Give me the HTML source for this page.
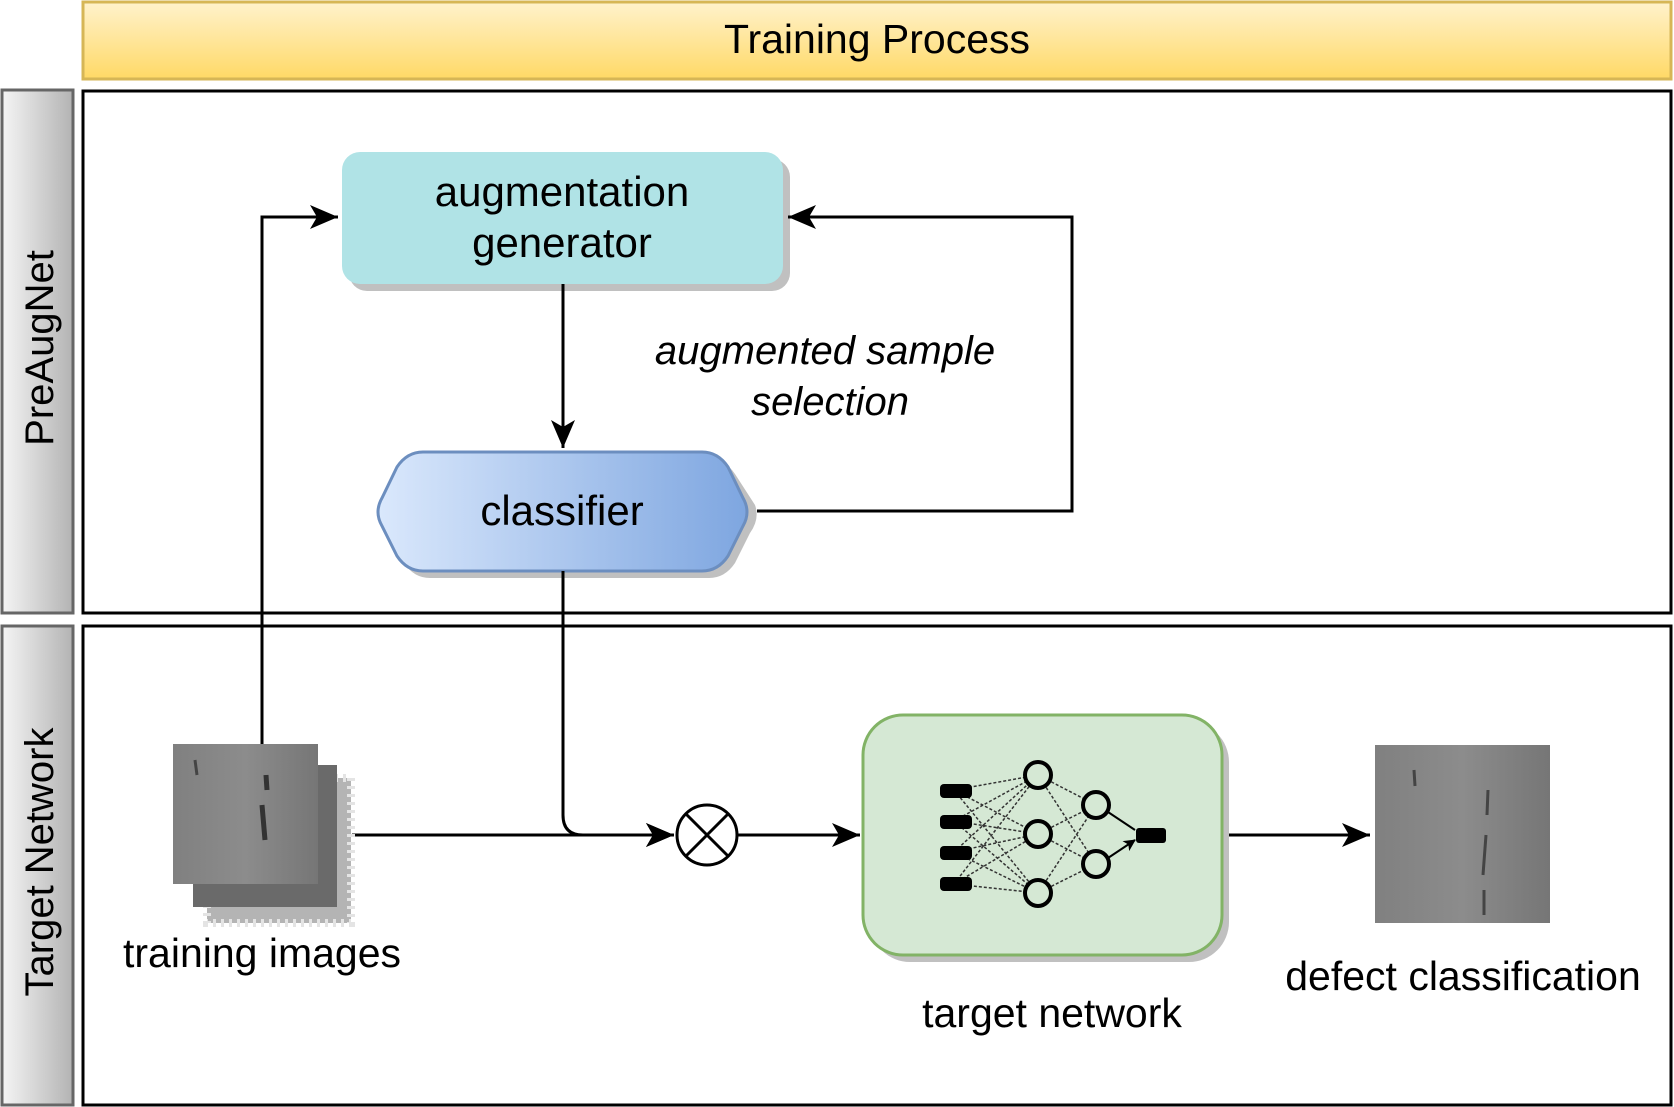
<!DOCTYPE html>
<html><head><meta charset="utf-8"><style>
html,body{margin:0;padding:0;background:#fff;}
svg{display:block;}
text{font-family:"Liberation Sans",Arial,sans-serif;}
</style></head><body>
<svg width="1674" height="1107" viewBox="0 0 1674 1107" xmlns="http://www.w3.org/2000/svg">
<defs>
<linearGradient id="hdr" x1="0" y1="0" x2="0" y2="1"><stop offset="0" stop-color="#fff2cc"/><stop offset="1" stop-color="#ffd966"/></linearGradient>
<linearGradient id="side" x1="0" y1="0" x2="1" y2="0"><stop offset="0" stop-color="#f5f5f5"/><stop offset="1" stop-color="#b3b3b3"/></linearGradient>
<linearGradient id="cls" x1="0" y1="0" x2="1" y2="0"><stop offset="0" stop-color="#dae8fc"/><stop offset="1" stop-color="#7ea6e0"/></linearGradient>
<linearGradient id="img" x1="0" y1="0" x2="1" y2="0"><stop offset="0" stop-color="#808080"/><stop offset="0.5" stop-color="#8c8c8c"/><stop offset="1" stop-color="#767676"/></linearGradient>
<marker id="ar" markerWidth="12" markerHeight="12" refX="11" refY="6" orient="auto" markerUnits="userSpaceOnUse"><path d="M0,0 L12,6 L0,12 L3,6 Z" fill="#000"/></marker>
<marker id="ar2" viewBox="0 0 30 30" markerWidth="30" markerHeight="30" refX="28" refY="15" orient="auto" markerUnits="userSpaceOnUse"><path d="M0,3 L28,15 L0,27 L7,15 Z" fill="#000"/></marker>
</defs>

<rect x="83" y="2" width="1588" height="77" fill="url(#hdr)" stroke="#d6b656" stroke-width="3"/>
<text x="877" y="53" font-size="41" text-anchor="middle">Training Process</text>

<rect x="2" y="90" width="71" height="523" fill="url(#side)" stroke="#666" stroke-width="3"/>
<rect x="83" y="91" width="1588" height="522" fill="#fff" stroke="#000" stroke-width="3"/>
<text transform="translate(53,348) rotate(-90)" font-size="40" text-anchor="middle">PreAugNet</text>

<rect x="2" y="626" width="71" height="479" fill="url(#side)" stroke="#666" stroke-width="3"/>
<rect x="83" y="626" width="1588" height="479" fill="#fff" stroke="#000" stroke-width="3"/>
<text transform="translate(53,862) rotate(-90)" font-size="40" text-anchor="middle">Target Network</text>

<rect x="349" y="159" width="441" height="132" rx="18" fill="#c0c0c0"/>
<rect x="342" y="152" width="441" height="132" rx="18" fill="#b0e3e6"/>
<text x="562" y="206" font-size="42" text-anchor="middle">augmentation</text>
<text x="562" y="257" font-size="42" text-anchor="middle">generator</text>

<path d="M430,459 L709,459 Q725,459 735,474 L755,505 Q760,519 750,533 L735,563 Q725,578 709,578 L430,578 Q414,578 404,563 L389,533 Q379,519 389,505 L404,474 Q414,459 430,459 Z" fill="#c0c0c0"/>
<path d="M423,452 L702,452 Q718,452 728,467 L743,498 Q751,512 743,526 L728,556 Q718,571 702,571 L423,571 Q407,571 397,556 L382,526 Q374,512 382,498 L397,467 Q407,452 423,452 Z" fill="url(#cls)" stroke="#6c8ebf" stroke-width="3"/>
<text x="562" y="525" font-size="42" text-anchor="middle">classifier</text>

<path d="M563,284 L563,448" fill="none" stroke="#000" stroke-width="3" marker-end="url(#ar2)"/>
<path d="M262,744 L262,217 L338,217" fill="none" stroke="#000" stroke-width="3" marker-end="url(#ar2)"/>
<path d="M757,511 L1072,511 L1072,217 L788,217" fill="none" stroke="#000" stroke-width="3" marker-end="url(#ar2)"/>
<path d="M563,571 L563,815 Q563,835 583,835 L674,835" fill="none" stroke="#000" stroke-width="3" marker-end="url(#ar2)"/>
<path d="M352,835 L674,835" fill="none" stroke="#000" stroke-width="3" marker-end="url(#ar2)"/>
<path d="M737,835 L860,835" fill="none" stroke="#000" stroke-width="3" marker-end="url(#ar2)"/>
<path d="M1222,835 L1370,835" fill="none" stroke="#000" stroke-width="3" marker-end="url(#ar2)"/>

<text x="825" y="364" font-size="40" font-style="italic" text-anchor="middle">augmented sample</text>
<text x="830" y="415" font-size="40" font-style="italic" text-anchor="middle">selection</text>

<circle cx="707" cy="835" r="30" fill="#fff" stroke="#000" stroke-width="3"/>
<line x1="686" y1="814" x2="728" y2="856" stroke="#000" stroke-width="3"/>
<line x1="728" y1="814" x2="686" y2="856" stroke="#000" stroke-width="3"/>

<rect x="207" y="778" width="144" height="145" fill="#b4b4b4"/>
<rect x="207" y="778" width="144" height="145" fill="none" stroke="#e4e4e4" stroke-width="8" stroke-dasharray="3 5"/>
<rect x="193" y="765" width="144" height="142" fill="#6a6a6a"/>
<rect x="173" y="744" width="145" height="140" fill="url(#img)"/>
<path d="M262,805 l3,35 M266,775 l1,15" stroke="#333" stroke-width="5"/>
<path d="M195,760 l2,15" stroke="#444" stroke-width="3"/>
<text x="262" y="967" font-size="41" text-anchor="middle">training images</text>

<rect x="870" y="722" width="359" height="240" rx="40" fill="#c0c0c0"/>
<rect x="863" y="715" width="359" height="240" rx="40" fill="#d5e8d4" stroke="#82b366" stroke-width="3"/>
<g stroke="#333" stroke-width="1.5" stroke-dasharray="3 2" fill="none">
<path d="M954,790 L1038,775 M954,790 L1038,834 M954,790 L1038,893 M954,821 L1038,775 M954,821 L1038,834 M954,821 L1038,893 M954,852 L1038,775 M954,852 L1038,834 M954,852 L1038,893 M954,884 L1038,775 M954,884 L1038,834 M954,884 L1038,893 M1038,775 L1096,805 M1038,775 L1096,864 M1038,834 L1096,805 M1038,834 L1096,864 M1038,893 L1096,805 M1038,893 L1096,864"/>
</g>
<path d="M1105,810 L1135,830 M1105,860 L1135,840" stroke="#000" stroke-width="2" marker-end="url(#ar)"/>
<g fill="#000"><rect x="940" y="784" width="32" height="14" rx="4"/><rect x="940" y="815" width="32" height="14" rx="4"/><rect x="940" y="846" width="32" height="14" rx="4"/><rect x="940" y="877" width="32" height="14" rx="4"/><rect x="1136" y="828" width="30" height="15" rx="3"/></g>
<g fill="#d5e8d4" stroke="#000" stroke-width="4"><circle cx="1038" cy="775" r="13"/><circle cx="1038" cy="834" r="13"/><circle cx="1038" cy="893" r="13"/><circle cx="1096" cy="805" r="13"/><circle cx="1096" cy="864" r="13"/></g>
<text x="1052" y="1027" font-size="41" text-anchor="middle">target network</text>

<rect x="1375" y="745" width="175" height="178" fill="url(#img)"/>
<path d="M1414,770 l1,16 M1488,790 l-1,25 M1486,835 l-3,40 M1484,890 l0,25" stroke="#444" stroke-width="3"/>
<text x="1463" y="990" font-size="41" text-anchor="middle">defect classification</text>
</svg>
</body></html>
